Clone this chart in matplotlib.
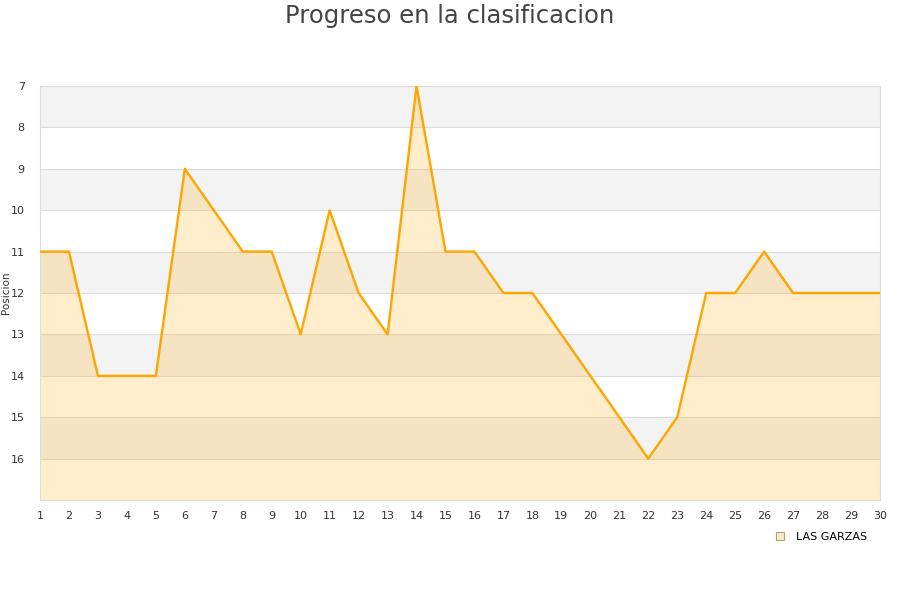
import numpy as np
import matplotlib.pyplot as plt
from matplotlib.lines import Line2D

jornadas = list(range(1, 31))
posiciones = [11, 11, 14, 14, 14, 9, 10, 11, 11, 13,
              10, 12, 13, 7, 11, 11, 12, 12, 13, 14,
              15, 16, 15, 12, 12, 11, 12, 12, 12, 12]
equipo = 'LAS GARZAS'
y_ticks = list(range(7, 17))

fig = plt.figure(figsize=(9, 6), dpi=100)
ax = fig.add_axes([40 / 900, 100 / 600, 840 / 900, 414 / 600])

# bandas alternas
for y0 in range(7, 17, 2):
    ax.axhspan(y0, y0 + 1, color='#F3F3F3', zorder=0, lw=0)
for y in y_ticks[1:]:
    ax.axhline(y, color='#DDDDDD', lw=0.8, zorder=1)

ax.fill_between(jornadas, posiciones, 17, color='#FFA500', alpha=0.2, lw=0, zorder=2)
ax.plot(jornadas, posiciones, color='#FFA500', lw=1.7, zorder=3)

ax.set_xlim(1, 30)
ax.set_ylim(17, 7)
ax.set_xticks(jornadas)
ax.set_yticks(y_ticks)
ax.tick_params(length=0, labelsize=8, colors='#333333', pad=8)
ax.tick_params(axis='y', pad=11)
for s in ax.spines.values():
    s.set_color('#DDDDDD')
ax.set_ylabel('Posicion', fontsize=7.5, color='#333333')
ax.yaxis.set_label_coords(-0.034, 0.5)

fig.text(0.5, 0.973, 'Progreso en la clasificacion', ha='center', va='center',
         fontsize=17.5, color='#444444')

handle = Line2D([], [], marker='s', ls='', markersize=6,
                markerfacecolor='#FFEBCC', markeredgecolor='#B8A078', markeredgewidth=0.8)
fig.legend([handle], [equipo], loc='center right', bbox_to_anchor=(0.975, 0.105),
           frameon=False, fontsize=8, handletextpad=0.5)

fig.savefig('out.png', dpi=100)
